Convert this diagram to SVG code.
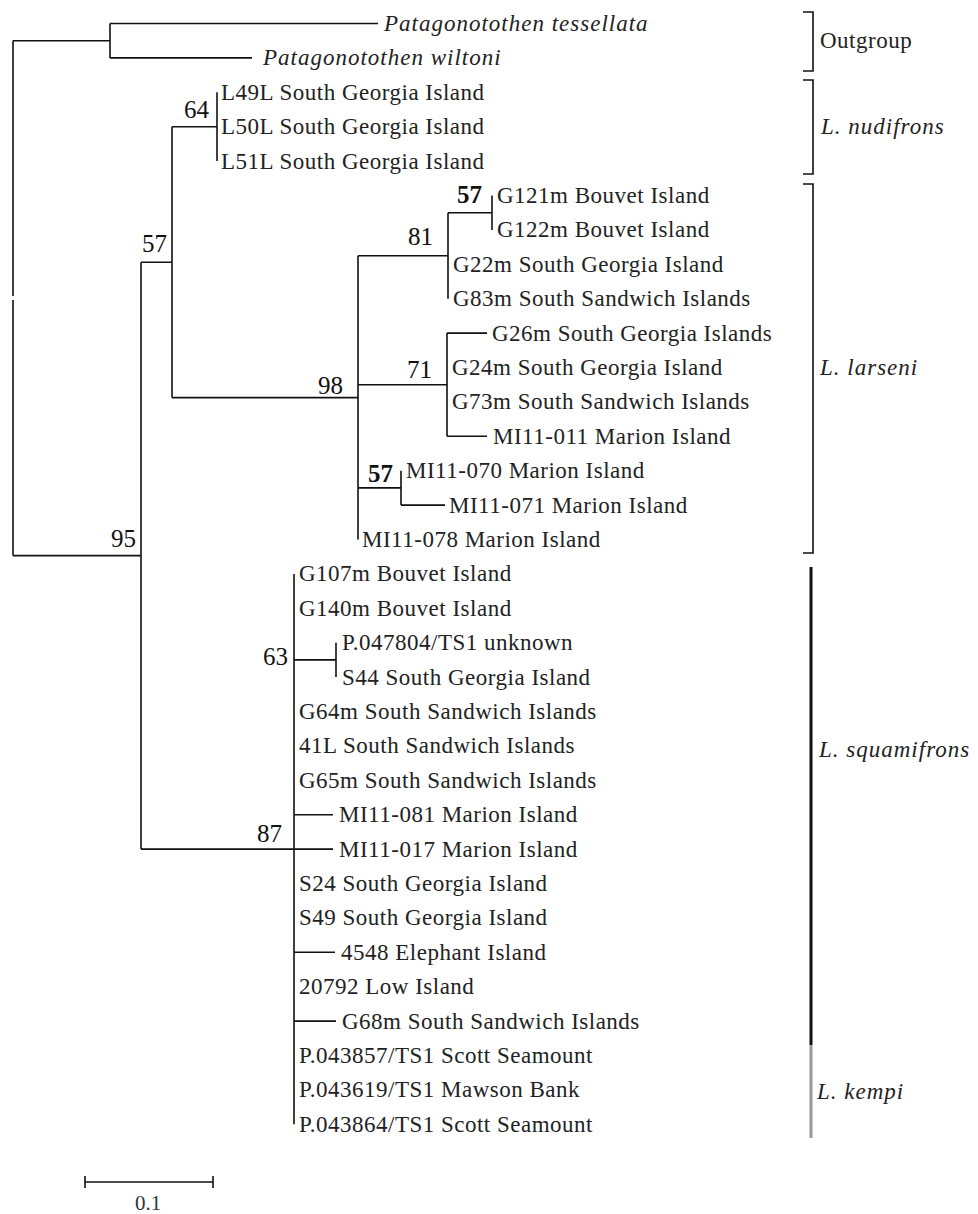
<svg xmlns="http://www.w3.org/2000/svg" width="978" height="1214" viewBox="0 0 978 1214">
<style>
.ln{stroke:#111;stroke-width:1.6;fill:none}
.br{stroke:#111;stroke-width:1.6;fill:none}
.lab{font-family:"Liberation Serif","Times New Roman",serif;font-size:23px;fill:#222;letter-spacing:0.5px}
.it{font-style:italic;letter-spacing:1px}
.bs{font-family:"Liberation Serif","Times New Roman",serif;font-size:25px;fill:#111;text-anchor:end}
.bb{font-weight:bold}
</style>
<rect width="978" height="1214" fill="#fff"/>
<g id="connectors">
<path class="ln" d="M13,40.7V296M13,300V555.6M13,40.7H110M13,555.6H141"/>
<path class="ln" d="M110,23.5V57.9M110,23.5H378M110,57.9H252"/>
<path class="ln" d="M141,262.2V849.1M141,262.2H172M141,849.1H294"/>
<path class="ln" d="M172,126.7V397.6M172,126.7H217M172,397.6H358"/>
<path class="ln" d="M217,92.3V161.1"/>
<path class="ln" d="M358,255.7V539.5M358,255.7H448M358,384.7H447M358,487.9H401"/>
<path class="ln" d="M448,212.7V298.7M448,212.7H492"/>
<path class="ln" d="M492,195.5V229.9"/>
<path class="ln" d="M447,333.1V436.3M447,333.1H487M447,436.3H487"/>
<path class="ln" d="M401,470.7V505.1M401,505.1H445"/>
<path class="ln" d="M294,573.9V1124.3M294,659.9H336M294,814.7H333M294,849.1H333M294,952.3H335M294,1021.1H336"/>
<path class="ln" d="M336,642.7V677.1"/>
</g>
<g id="leaves">
<g id="leaf-tessellata"><text class="lab it" x="384" y="31">Patagonotothen tessellata</text></g>
<g id="leaf-wiltoni"><text class="lab it" x="263" y="65.4">Patagonotothen wiltoni</text></g>
<g id="leaf-L49L"><text class="lab" x="221" y="99.8">L49L South Georgia Island</text></g>
<g id="leaf-L50L"><text class="lab" x="221" y="134.2">L50L South Georgia Island</text></g>
<g id="leaf-L51L"><text class="lab" x="221" y="168.6">L51L South Georgia Island</text></g>
<g id="leaf-G121m"><text class="lab" x="497" y="203">G121m Bouvet Island</text></g>
<g id="leaf-G122m"><text class="lab" x="497" y="237.4">G122m Bouvet Island</text></g>
<g id="leaf-G22m"><text class="lab" x="453" y="271.8">G22m South Georgia Island</text></g>
<g id="leaf-G83m"><text class="lab" x="453" y="306.2">G83m South Sandwich Islands</text></g>
<g id="leaf-G26m"><text class="lab" x="492" y="340.6">G26m South Georgia Islands</text></g>
<g id="leaf-G24m"><text class="lab" x="452" y="375">G24m South Georgia Island</text></g>
<g id="leaf-G73m"><text class="lab" x="452" y="409.4">G73m South Sandwich Islands</text></g>
<g id="leaf-MI11-011"><text class="lab" x="493" y="443.8">MI11-011 Marion Island</text></g>
<g id="leaf-MI11-070"><text class="lab" x="406" y="478.2">MI11-070 Marion Island</text></g>
<g id="leaf-MI11-071"><text class="lab" x="449" y="512.6">MI11-071 Marion Island</text></g>
<g id="leaf-MI11-078"><text class="lab" x="362" y="547">MI11-078 Marion Island</text></g>
<g id="leaf-G107m"><text class="lab" x="299" y="581.4">G107m Bouvet Island</text></g>
<g id="leaf-G140m"><text class="lab" x="299" y="615.8">G140m Bouvet Island</text></g>
<g id="leaf-P047804"><text class="lab" x="342" y="650.2">P.047804/TS1 unknown</text></g>
<g id="leaf-S44"><text class="lab" x="342" y="684.6">S44 South Georgia Island</text></g>
<g id="leaf-G64m"><text class="lab" x="299" y="719">G64m South Sandwich Islands</text></g>
<g id="leaf-41L"><text class="lab" x="299" y="753.4">41L South Sandwich Islands</text></g>
<g id="leaf-G65m"><text class="lab" x="299" y="787.8">G65m South Sandwich Islands</text></g>
<g id="leaf-MI11-081"><text class="lab" x="339" y="822.2">MI11-081 Marion Island</text></g>
<g id="leaf-MI11-017"><text class="lab" x="339" y="856.6">MI11-017 Marion Island</text></g>
<g id="leaf-S24"><text class="lab" x="299" y="891">S24 South Georgia Island</text></g>
<g id="leaf-S49"><text class="lab" x="299" y="925.4">S49 South Georgia Island</text></g>
<g id="leaf-4548"><text class="lab" x="341" y="959.8">4548 Elephant Island</text></g>
<g id="leaf-20792"><text class="lab" x="299" y="994.2">20792 Low Island</text></g>
<g id="leaf-G68m"><text class="lab" x="342" y="1028.6">G68m South Sandwich Islands</text></g>
<g id="leaf-P043857"><text class="lab" x="299" y="1063">P.043857/TS1 Scott Seamount</text></g>
<g id="leaf-P043619"><text class="lab" x="299" y="1097.4">P.043619/TS1 Mawson Bank</text></g>
<g id="leaf-P043864"><text class="lab" x="299" y="1131.8">P.043864/TS1 Scott Seamount</text></g>
</g>
<g id="support">
<g id="node-64"><text class="bs" x="209" y="118">64</text></g>
<g id="node-57-top"><text class="bs" x="167" y="252">57</text></g>
<g id="node-57-bouvet"><text class="bs bb" x="482" y="203">57</text></g>
<g id="node-81"><text class="bs" x="433" y="245">81</text></g>
<g id="node-98"><text class="bs" x="343" y="394">98</text></g>
<g id="node-71"><text class="bs" x="432" y="378">71</text></g>
<g id="node-57-marion"><text class="bs bb" x="393" y="482">57</text></g>
<g id="node-95"><text class="bs" x="136" y="547">95</text></g>
<g id="node-63"><text class="bs" x="288" y="665">63</text></g>
<g id="node-87"><text class="bs" x="282" y="842">87</text></g>
</g>
<g id="groups">
<g id="grp-outgroup"><path class="br" d="M803,12H813V71H803"/><text class="lab" x="820" y="48">Outgroup</text></g>
<g id="grp-nudifrons"><path class="br" d="M803,80H813V174H803"/><text class="lab it" x="821" y="134">L. nudifrons</text></g>
<g id="grp-larseni"><path class="br" d="M803,184H813V553H803"/><text class="lab it" x="820" y="375">L. larseni</text></g>
<g id="grp-squamifrons"><line x1="811" y1="567" x2="811" y2="1045" stroke="#111" stroke-width="3"/><text class="lab it" x="819" y="757">L. squamifrons</text></g>
<g id="grp-kempi"><line x1="811" y1="1045" x2="811" y2="1138" stroke="#999" stroke-width="3"/><text class="lab it" x="817" y="1099">L. kempi</text></g>
</g>
<g id="scalebar">
<path class="ln" d="M85,1182H213M85,1176V1188M213,1176V1188"/>
<text x="148" y="1210" text-anchor="middle" font-family="Liberation Serif, serif" font-size="21" fill="#333">0.1</text>
</g>
</svg>
